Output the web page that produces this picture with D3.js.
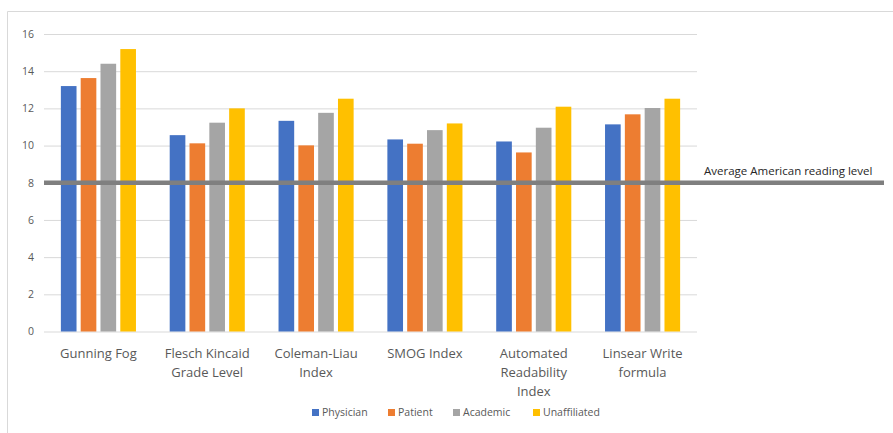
<!DOCTYPE html>
<html>
<head>
<meta charset="utf-8">
<script src="https://cdn.jsdelivr.net/npm/d3@7"></script>
<style>
  html, body { margin: 0; padding: 0; background: #fff; }
  svg { display: block; font-family: "Open Sans", "Noto Sans", sans-serif; }
</style>
</head>
<body>
<svg id="chart" width="893" height="433"></svg>
<script>
// Readability formulas (x categories), each split over two or three lines
const categories = [
  ["Gunning Fog"],
  ["Flesch Kincaid", "Grade Level"],
  ["Coleman-Liau", "Index"],
  ["SMOG Index"],
  ["Automated", "Readability", "Index"],
  ["Linsear Write", "formula"]
];
const seriesNames = ["Physician", "Patient", "Academic", "Unaffiliated"];
const seriesColors = ["#4472c4", "#ed7d31", "#a5a5a5", "#ffc000"];

// Mean grade level per author group, one array per group
const physician    = [13.2, 10.56, 11.33, 10.33, 10.22, 11.14];
const patient      = [13.63, 10.12, 10.01, 10.10, 9.63, 11.68];
const academic     = [14.4, 11.23, 11.76, 10.83, 10.96, 12.02];
const unaffiliated = [15.19, 12.0, 12.52, 11.19, 12.09, 12.52];

const yTicks = [0, 2, 4, 6, 8, 10, 12, 14, 16];
const referenceLevel = 8;
const referenceLabel = "Average American reading level";

const seriesValues = [physician, patient, academic, unaffiliated];

const svg = d3.select("#chart");
const W = 893, H = 433;
const plot = { left: 44, right: 697, top: 34, bottom: 331.5 };

// Outer chart frame (top and left edges)
svg.append("path")
  .attr("d", `M7.5,${H} L7.5,11.5 L${W},11.5`)
  .attr("fill", "none")
  .attr("stroke", "#d9d9d9")
  .attr("stroke-width", 1);

const x0 = d3.scaleBand()
  .domain(d3.range(categories.length))
  .range([plot.left, plot.right])
  .paddingInner(0.31)
  .paddingOuter(0.155);

const x1 = d3.scaleBand()
  .domain(d3.range(seriesNames.length))
  .range([0, x0.bandwidth()])
  .paddingInner(0.21);

const y = d3.scaleLinear()
  .domain([0, 16])
  .range([plot.bottom, plot.top]);

// Horizontal gridlines and y tick labels
const yAxis = d3.axisLeft(y)
  .tickValues(yTicks)
  .tickSize(-(plot.right - plot.left))
  .tickPadding(10)
  .tickFormat(d3.format("d"));

const gy = svg.append("g")
  .attr("transform", `translate(${plot.left},0)`)
  .call(yAxis);
gy.select(".domain").remove();
gy.selectAll(".tick line").attr("stroke", "#d9d9d9").attr("stroke-width", 1);
gy.selectAll(".tick text")
  .attr("fill", "#595959")
  .style("font-family", "'Open Sans', sans-serif")
  .style("font-size", "10.5px");

// Bars
const groups = svg.append("g")
  .selectAll("g")
  .data(categories.map((c, i) => i))
  .join("g")
  .attr("transform", i => `translate(${x0(i)},0)`);

groups.selectAll("rect")
  .data(i => seriesValues.map((vals, s) => ({ s, v: vals[i] })))
  .join("rect")
  .attr("x", d => x1(d.s))
  .attr("width", x1.bandwidth())
  .attr("y", d => y(d.v))
  .attr("height", d => y(0) - y(d.v))
  .attr("fill", d => seriesColors[d.s]);

// Reference line at the average reading level
svg.append("line")
  .attr("x1", plot.left)
  .attr("x2", 884)
  .attr("y1", y(referenceLevel))
  .attr("y2", y(referenceLevel))
  .attr("stroke", "#7f7f7f")
  .attr("stroke-width", 4.5);

svg.append("text")
  .attr("x", 704)
  .attr("y", y(referenceLevel) - 8)
  .attr("fill", "#262626")
  .style("font-size", "11.5px")
  .text(referenceLabel);

// Category labels below the plot
const xLabels = svg.append("g");
categories.forEach((lines, i) => {
  const t = xLabels.append("text")
    .attr("x", x0(i) + x0.bandwidth() / 2)
    .attr("y", 358)
    .attr("text-anchor", "middle")
    .attr("fill", "#595959")
    .style("font-size", "13px");
  lines.forEach((ln, k) => {
    t.append("tspan")
      .attr("x", x0(i) + x0.bandwidth() / 2)
      .attr("dy", k === 0 ? 0 : 19)
      .text(ln);
  });
});

// Legend
const legendX = [312, 388, 453, 533];
const legend = svg.append("g");
seriesNames.forEach((name, s) => {
  legend.append("rect")
    .attr("x", legendX[s])
    .attr("y", 409)
    .attr("width", 7)
    .attr("height", 7)
    .attr("fill", seriesColors[s]);
  legend.append("text")
    .attr("x", legendX[s] + 10)
    .attr("y", 416)
    .attr("fill", "#595959")
    .style("font-size", "10.5px")
    .text(name);
});
</script>
</body>
</html>
